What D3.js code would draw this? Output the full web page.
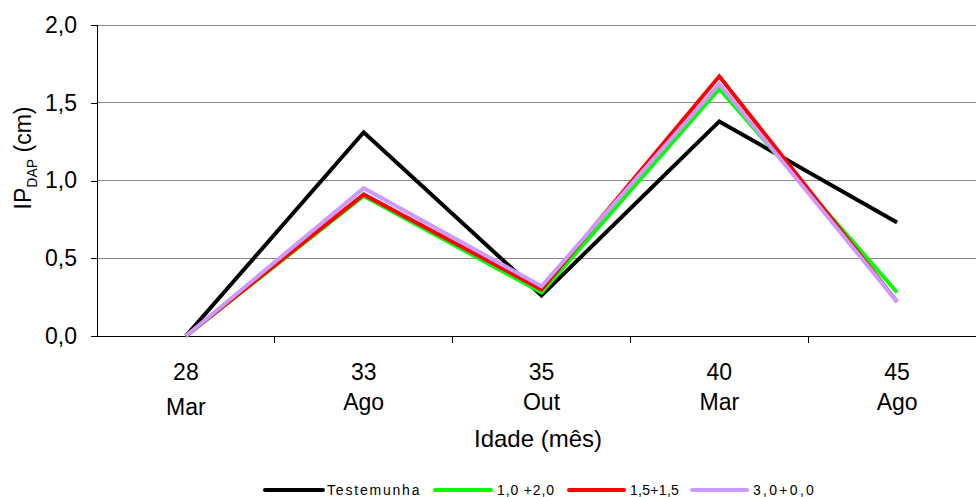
<!DOCTYPE html>
<html>
<head>
<meta charset="utf-8">
<script src="https://cdn.jsdelivr.net/npm/d3@7/dist/d3.min.js"></script>
<style>
  body { margin: 0; background: #fff; }
  svg { display: block; font-family: Arial, "Liberation Sans", sans-serif; }
</style>
</head>
<body>
<svg id="chart" width="976" height="497"></svg>
<script>
// Age in months and month of measurement
const ages = ["28", "33", "35", "40", "45"];
const months = ["Mar", "Ago", "Out", "Mar", "Ago"];

// Diameter increment (cm) per treatment
const testemunha = [0.00, 1.31, 0.26, 1.38, 0.73];
const trat10_20 = [0.00, 0.90, 0.28, 1.59, 0.28];
const trat15_15 = [0.00, 0.91, 0.30, 1.67, 0.22];
const trat30_00 = [0.00, 0.95, 0.32, 1.62, 0.22];

const seriesNames = ["Testemunha", "1,0 +2,0", "1,5+1,5", "3,0+0,0"];
const yTicks = [0, 0.5, 1.0, 1.5, 2.0];

const series = [
  { name: seriesNames[0], values: testemunha, color: "#000000" },
  { name: seriesNames[1], values: trat10_20, color: "#00ff00" },
  { name: seriesNames[2], values: trat15_15, color: "#ff0000" },
  { name: seriesNames[3], values: trat30_00, color: "#cc99ff" }
];

const svg = d3.select("#chart");
const plotLeft = 97, plotRight = 986, plotTop = 25, plotBottom = 336;

const x = d3.scaleBand().domain(d3.range(ages.length)).range([plotLeft, plotRight]).padding(0);
const y = d3.scaleLinear().domain([0, 2]).range([plotBottom, plotTop]);
const fmt = v => d3.format(".1f")(v).replace(".", ",");

// Horizontal gridlines
svg.append("g")
  .selectAll("line")
  .data(yTicks.filter(t => t > 0))
  .join("line")
  .attr("x1", plotLeft).attr("x2", 976)
  .attr("y1", d => y(d)).attr("y2", d => y(d))
  .attr("stroke", "#888").attr("stroke-width", 1)
  .attr("shape-rendering", "crispEdges");

// Y axis
const yAxis = svg.append("g")
  .attr("transform", `translate(${plotLeft},0)`)
  .call(d3.axisLeft(y).tickValues(yTicks).tickFormat(fmt).tickSize(6).tickPadding(14));
yAxis.select(".domain").attr("stroke", "#000").attr("shape-rendering", "crispEdges");
yAxis.selectAll(".tick line").attr("stroke", "#000").attr("shape-rendering", "crispEdges");
yAxis.selectAll("text").attr("font-size", 23).attr("fill", "#000")
  .attr("font-family", "Arial, 'Liberation Sans', sans-serif");

// X axis line with ticks at band boundaries
svg.append("line")
  .attr("x1", plotLeft).attr("x2", 976)
  .attr("y1", plotBottom).attr("y2", plotBottom)
  .attr("stroke", "#000").attr("shape-rendering", "crispEdges");
svg.append("g")
  .selectAll("line")
  .data(d3.range(1, ages.length))
  .join("line")
  .attr("x1", d => x(d)).attr("x2", d => x(d))
  .attr("y1", plotBottom).attr("y2", plotBottom + 7)
  .attr("stroke", "#000").attr("shape-rendering", "crispEdges");

// Category labels (age over month)
const labels = svg.append("g")
  .selectAll("text")
  .data(d3.range(ages.length))
  .join("text")
  .attr("text-anchor", "middle")
  .attr("font-size", 23)
  .attr("fill", "#000")
  .attr("transform", d => `translate(${x(d) + x.bandwidth() / 2},0)`);
labels.append("tspan").attr("x", 0).attr("y", 380).text(d => ages[d]);
labels.append("tspan").attr("x", 0).attr("y", d => d === 0 ? 415 : 410).text(d => months[d]);

// Axis titles
svg.append("text")
  .attr("x", 538).attr("y", 447)
  .attr("text-anchor", "middle")
  .attr("font-size", 24)
  .text("Idade (mês)");

const yTitle = svg.append("text")
  .attr("transform", "translate(31,158) rotate(-90)")
  .attr("text-anchor", "middle")
  .attr("font-size", 23);
yTitle.append("tspan").text("IP");
yTitle.append("tspan").attr("font-size", 14).attr("dy", 6).text("DAP");
yTitle.append("tspan").attr("dy", -6).text(" (cm)");

// Series lines
const line = d3.line()
  .x((d, i) => x(i) + x.bandwidth() / 2)
  .y(d => y(d));

svg.append("g")
  .selectAll("path")
  .data(series)
  .join("path")
  .attr("d", d => line(d.values))
  .attr("fill", "none")
  .attr("stroke", d => d.color)
  .attr("stroke-width", 4)
  .attr("stroke-linejoin", "miter");

// Legend
const legendItems = [
  { lx: 265, lx2: 323, tx: 327, ls: 1.8 },
  { lx: 435, lx2: 491, tx: 497, ls: 0.85 },
  { lx: 569, lx2: 624, tx: 630, ls: 0.3 },
  { lx: 692, lx2: 747, tx: 753, ls: 2.3 }
];
const legend = svg.append("g");
series.forEach((s, i) => {
  const p = legendItems[i];
  legend.append("line")
    .attr("x1", p.lx).attr("x2", p.lx2)
    .attr("y1", 490).attr("y2", 490)
    .attr("stroke", s.color).attr("stroke-width", 4)
    .attr("stroke-linecap", "round");
  legend.append("text")
    .attr("x", p.tx).attr("y", 495)
    .attr("font-size", 14)
    .attr("letter-spacing", p.ls)
    .text(s.name);
});
</script>
</body>
</html>
